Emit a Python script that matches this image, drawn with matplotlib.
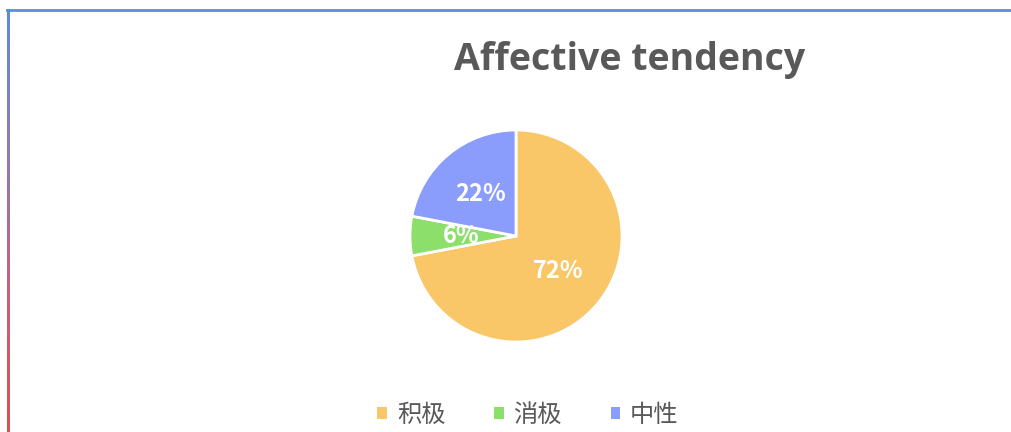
import matplotlib.pyplot as plt
import numpy as np
from matplotlib.colors import LinearSegmentedColormap

plt.rcParams['font.family'] = ['Noto Sans CJK SC', 'DejaVu Sans']

# data
labels = ["积极", "消极", "中性"]
values = [72, 6, 22]
colors = ["#F9C668", "#8CDF6B", "#8A9DFD"]
title = "Affective tendency"

W, H = 1011, 432
fig = plt.figure(figsize=(W / 100, H / 100), dpi=100)

# pie axes: centre (516, 236), radius ~106 px
r = 106
cx, cy = 516, 236
ax = fig.add_axes([(cx - r) / W, 1 - (cy + r) / H, 2 * r / W, 2 * r / H])
wedges, texts, autotexts = ax.pie(
    values, colors=colors, startangle=90, counterclock=False,
    autopct=lambda p: f"{p:.0f}%", pctdistance=0.52,
    wedgeprops=dict(edgecolor="white", linewidth=2),
    textprops=dict(color="white", fontsize=17, fontweight="bold"))
ax.set_aspect("equal")
ax.set_xlim(-1, 1)
ax.set_ylim(-1, 1)

fig.text(630 / W, 1 - 60 / H, title, ha="center", va="center",
         fontsize=27, fontweight="bold", color="#595959", family="Open Sans")

# legend
leg = fig.legend(wedges, labels, loc="center", bbox_to_anchor=(528 / W, 1 - 415 / H),
                 ncol=3, frameon=False, fontsize=17.5, labelcolor="#595959",
                 handlelength=0.4, handleheight=0.4, handletextpad=0.4,
                 columnspacing=2.0)
for h in leg.legend_handles:
    h.set_edgecolor("none")

# chart border: blue top line, gradient left line
fig.add_artist(plt.Line2D([7 / W, 1], [1 - 10 / H, 1 - 10 / H],
                          transform=fig.transFigure, color="#5B8ED6", lw=2))
cmap = LinearSegmentedColormap.from_list("edge", ["#5B8ED6", "#8F7BB8", "#C9607A", "#D9524F"])
bax = fig.add_axes([7 / W, 0, 3 / W, 1 - 9 / H])
bax.imshow(np.linspace(0, 1, 256).reshape(-1, 1), cmap=cmap, aspect="auto")
bax.set_axis_off()

fig.savefig("out.png", dpi=100)
